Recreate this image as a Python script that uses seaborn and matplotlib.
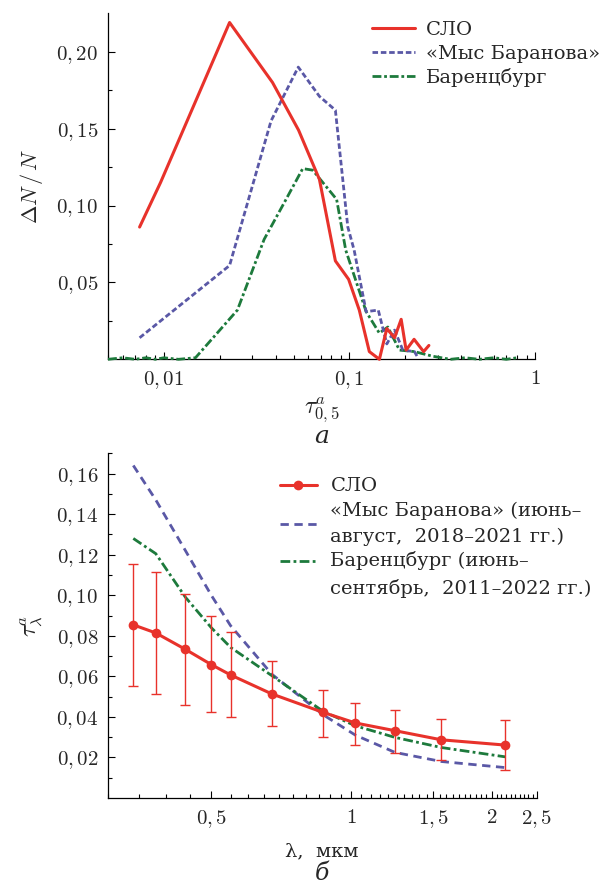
import numpy as np
import pandas as pd
import matplotlib
matplotlib.use("Agg")
import matplotlib.pyplot as plt
import matplotlib.ticker as mticker
from matplotlib.legend_handler import HandlerLine2D
import seaborn as sns

# --- panel a: distribution of tau(0.5) ---
tau_slo = [0.0074, 0.0096, 0.0226, 0.0385, 0.0532, 0.0689, 0.084, 0.099, 0.113,
           0.128, 0.145, 0.159, 0.175, 0.190, 0.202, 0.223, 0.251, 0.268]
dn_slo = [0.086, 0.115, 0.219, 0.180, 0.149, 0.117, 0.064, 0.052, 0.032,
          0.005, 0.0, 0.020, 0.014, 0.026, 0.006, 0.013, 0.005, 0.009]

tau_bar = [0.0074, 0.0226, 0.0378, 0.053, 0.0689, 0.084, 0.098, 0.106, 0.123,
           0.143, 0.159, 0.175, 0.194, 0.224, 0.234]
dn_bar = [0.014, 0.061, 0.155, 0.190, 0.171, 0.162, 0.086, 0.071, 0.031,
          0.032, 0.010, 0.019, 0.006, 0.005, 0.001]

tau_brn = [0.005, 0.006, 0.007, 0.008, 0.009, 0.010, 0.012, 0.0148, 0.0249, 0.0347,
           0.0446, 0.056, 0.0634, 0.0853, 0.0955, 0.123, 0.145, 0.161, 0.186, 0.224,
           0.281, 0.35, 0.42, 0.5, 0.6, 0.7, 0.8]
dn_brn = [0.0, 0.001, 0.0, 0.001, 0.0, 0.001, 0.0, 0.001, 0.032, 0.078,
          0.102, 0.124, 0.123, 0.104, 0.071, 0.031, 0.017, 0.021, 0.006, 0.005,
          0.002, 0.0, 0.001, 0.0, 0.001, 0.0, 0.001]

# --- panel b: spectral AOD ---
lam = [0.34, 0.38, 0.44, 0.50, 0.55, 0.675, 0.87, 1.02, 1.24, 1.56, 2.14]
aod_slo = [0.0854, 0.0814, 0.0733, 0.0658, 0.0607, 0.0513, 0.0422, 0.0370, 0.0332, 0.0287, 0.0261]
aod_slo_hi = [0.1152, 0.1114, 0.1004, 0.0896, 0.0817, 0.0674, 0.0533, 0.0469, 0.0434, 0.0388, 0.0385]
aod_slo_lo = [0.0554, 0.0513, 0.0460, 0.0422, 0.0400, 0.0353, 0.0303, 0.0263, 0.0222, 0.0187, 0.0138]
aod_bar = [0.164, 0.147, 0.122, 0.100, 0.085, 0.061, 0.041, 0.031, 0.0225, 0.018, 0.015]
aod_brn = [0.128, 0.1205, 0.099, 0.084, 0.0743, 0.0603, 0.0427, 0.0356, 0.0299, 0.0249, 0.0203]

RED = "#e8322b"
BLUE = "#5a58a6"
GREEN = "#1d7a3c"

sns.set_style("ticks")
plt.rcParams["font.family"] = ["DejaVu Serif"]
plt.rcParams["mathtext.fontset"] = "cm"
FS = 14


def comma_fmt(dec):
    def f(v, pos):
        s = f"{v:.{dec}f}".replace(".", ",") if dec else f"{v:g}".replace(".", ",")
        return f"${s}$"
    return mticker.FuncFormatter(f)


def style_axes(ax):
    sns.despine(ax=ax)
    for sp in ("left", "bottom"):
        ax.spines[sp].set_linewidth(0.9)
        ax.spines[sp].set_color("black")
    ax.tick_params(which="both", direction="in", labelsize=FS + 1, pad=7,
                   width=0.8, color="black")
    ax.tick_params(which="major", length=5)
    ax.tick_params(which="minor", length=3)


class ShiftedLine(HandlerLine2D):
    # legend line moved up a bit (as in the reference)
    def __init__(self, dy, **kw):
        super().__init__(**kw)
        self.dy = dy

    def create_artists(self, legend, orig_handle, xdescent, ydescent, width,
                       height, fontsize, trans):
        arts = super().create_artists(legend, orig_handle, xdescent, ydescent + self.dy,
                                      width, height, fontsize, trans)
        return arts


fig = plt.figure(figsize=(6, 8.85), dpi=100)

# ---------------- panel a ----------------
ax1 = fig.add_axes([0.18, 0.594, 0.7117, 0.391])
sns.lineplot(x=tau_slo, y=dn_slo, ax=ax1, color=RED, lw=2.2, label="СЛО",
             clip_on=False, zorder=5)
sns.lineplot(x=tau_bar, y=dn_bar, ax=ax1, color=BLUE, lw=2.0,
             linestyle=(0, (2.0, 1.0)), label="«Мыс Баранова»", clip_on=False, zorder=4)
sns.lineplot(x=tau_brn, y=dn_brn, ax=ax1, color=GREEN, lw=2.0,
             linestyle=(0, (3.2, 1.0, 1.0, 1.0)), label="Баренцбург", clip_on=False, zorder=3)
ax1.set_xscale("log")
ax1.set_xlim(0.005, 1)
ax1.set_ylim(0, 0.225)
ax1.xaxis.set_major_locator(mticker.FixedLocator([0.01, 0.1, 1]))
ax1.xaxis.set_major_formatter(comma_fmt(0))
ax1.xaxis.set_minor_locator(mticker.LogLocator(base=10, subs=np.arange(2, 10)))
ax1.xaxis.set_minor_formatter(mticker.NullFormatter())
ax1.yaxis.set_major_locator(mticker.FixedLocator([0.05, 0.10, 0.15, 0.20]))
ax1.yaxis.set_major_formatter(comma_fmt(2))
ax1.yaxis.set_minor_locator(mticker.FixedLocator([0.025, 0.075, 0.125, 0.175]))
style_axes(ax1)
ax1.set_ylabel(r"$\Delta N\,/\,N$", fontsize=FS + 2, labelpad=8)
ax1.legend(loc="upper left", bbox_to_anchor=(0.618, 0.977), frameon=False,
           fontsize=FS, handlelength=2.2, handletextpad=0.6, labelspacing=0.28,
           borderpad=0, borderaxespad=0)

fig.text(0.536, 1 - 410 / 885, r"$\tau^{a}_{0,5}$", ha="center", va="center", fontsize=FS + 3)
fig.text(0.536, 1 - 436 / 885, "а", ha="center", va="center", fontsize=FS + 4, style="italic")

# ---------------- panel b ----------------
ax2 = fig.add_axes([0.18, 0.0983, 0.7145, 0.3895])
slo = np.array(aod_slo)
yerr = [slo - np.array(aod_slo_lo), np.array(aod_slo_hi) - slo]
sns.lineplot(x=lam, y=aod_bar, ax=ax2, color=BLUE, lw=2.0,
             linestyle=(0, (3.0, 2.0)), label="«Мыс Баранова» (июнь–\nавгуст,  2018–2021 гг.)",
             zorder=3)
sns.lineplot(x=lam, y=aod_brn, ax=ax2, color=GREEN, lw=2.0,
             linestyle=(0, (3.5, 1.2, 1.0, 1.2)), label="Баренцбург (июнь–\nсентябрь,  2011–2022 гг.)",
             zorder=3)
ax2.errorbar(lam, slo, yerr=yerr, fmt="none", ecolor=RED, elinewidth=1.0,
             capsize=3.5, capthick=1.0, zorder=4)
sns.lineplot(x=lam, y=aod_slo, ax=ax2, color=RED, lw=2.2, marker="o",
             markersize=7, markeredgewidth=0, label="СЛО", zorder=5)
ax2.set_xscale("log")
ax2.set_xlim(0.3, 2.5)
ax2.set_ylim(0, 0.17)
ax2.xaxis.set_major_locator(mticker.FixedLocator([0.5, 1, 1.5, 2, 2.5]))
ax2.xaxis.set_major_formatter(comma_fmt(0))
ax2.xaxis.set_minor_locator(mticker.FixedLocator(np.arange(0.30, 2.51, 0.05)))
ax2.xaxis.set_minor_formatter(mticker.NullFormatter())
ax2.yaxis.set_major_locator(mticker.FixedLocator(np.arange(0.02, 0.161, 0.02)))
ax2.yaxis.set_major_formatter(comma_fmt(2))
ax2.yaxis.set_minor_locator(mticker.FixedLocator(np.arange(0.01, 0.171, 0.02)))
style_axes(ax2)
ax2.set_ylabel(r"$\tau^{a}_{\lambda}$", fontsize=FS + 3, labelpad=8)

h, l = ax2.get_legend_handles_labels()
order = [l.index("СЛО")] + [i for i in range(len(l)) if l[i] != "СЛО"]
handles = [h[i] for i in order]
leg = ax2.legend(handles, [l[i] for i in order], loc="upper left",
                 bbox_to_anchor=(0.401, 0.93), frameon=False, fontsize=FS,
                 handlelength=1.9, handletextpad=0.7, labelspacing=0.3,
                 borderpad=0, borderaxespad=0,
                 handler_map={handles[2]: ShiftedLine(-20)})
for t in leg.get_texts():
    t.set_linespacing(1.55)

fig.text(0.536, 1 - 851 / 885, "λ,  мкм", ha="center", va="center", fontsize=FS)
fig.text(0.536, 1 - 873 / 885, "б", ha="center", va="center", fontsize=FS + 3, style="italic")

fig.savefig("out.png", dpi=100)
